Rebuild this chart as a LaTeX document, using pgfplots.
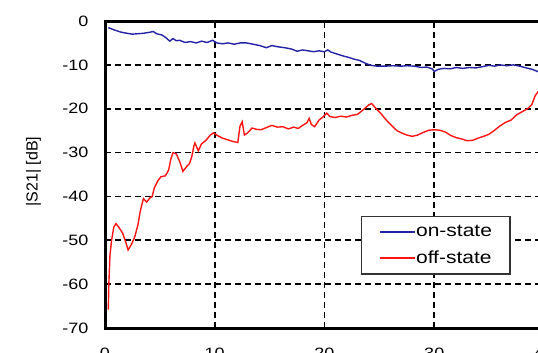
\documentclass[border=0pt]{standalone}
\usepackage{fontspec}
\setmainfont{Liberation Sans}
\newfontfamily\tickfont[FakeStretch=1.2]{Liberation Sans}
\newfontfamily\legfont[FakeStretch=1.2]{Liberation Sans}
\usepackage{pgfplots}
\pgfplotsset{compat=1.18}
\definecolor{onblue}{RGB}{35,35,165}
\definecolor{offred}{RGB}{255,20,20}
\begin{document}
\begin{tikzpicture}
\begin{axis}[
 scale only axis, width=439bp, height=307bp,
 at={(105bp,-328bp)}, anchor=south west,
 xmin=0, xmax=40, ymin=-70, ymax=0,
 xtick={0,10,20,30,40}, ytick={-70,-60,-50,-40,-30,-20,-10,0},
 grid=major,
 major grid style={black, line width=1.6bp, dash pattern=on 6bp off 4bp},
 axis line style={black, line width=3bp},
 tick style={black, line width=1.3bp}, major tick length=5bp, tick align=inside,
 /pgf/number format/assume math mode=true,
 tick label style={font=\tickfont\fontsize{15bp}{17bp}\selectfont},
 yticklabel style={xshift=-13bp},
 xticklabel style={yshift=-17bp},
 ylabel={|S21| [dB]},
 every axis y label/.style={at={(axis description cs:-0.163,0.51)}, rotate=90, anchor=center, font=\fontsize{16bp}{18bp}\selectfont},
 legend style={at={(axis description cs:0.583,0.365)}, anchor=north west,
   draw=black!80, line width=1.1bp, font=\legfont\fontsize{17.5bp}{20bp}\selectfont,
   inner xsep=18bp, inner ysep=9bp, row sep=12.5bp,
   nodes={inner sep=0bp}},
 legend image code/.code={\draw[line width=1.6bp,#1] (0bp,0bp) -- (35bp,0bp);},
 legend cell align=left,
]
\addplot[onblue, line width=1.4bp] coordinates {
(0.3,-1.5) (0.8,-2.0) (1.4,-2.5) (2.0,-2.8) (2.5,-3.0) (3.0,-2.9) (3.5,-2.8)
(4.0,-2.6) (4.4,-2.4) (4.7,-2.9) (5.2,-3.2) (5.6,-3.9) (5.9,-4.6) (6.2,-4.0)
(6.5,-4.5) (6.8,-4.4) (7.3,-4.9) (7.8,-4.7) (8.3,-5.0) (8.8,-4.6) (9.3,-4.9)
(9.8,-4.4) (10.2,-5.0) (10.7,-5.2) (11.2,-5.0) (11.8,-5.3) (12.3,-5.0) (12.9,-5.0)
(13.5,-5.3) (14.1,-5.6) (14.7,-6.1) (15.2,-5.6) (15.8,-5.9) (16.4,-6.1) (17.0,-6.4)
(17.5,-6.9) (18.0,-6.6) (18.5,-6.8) (19.0,-7.0) (19.5,-6.8) (20.0,-7.0) (20.3,-6.6)
(20.6,-7.1) (21.1,-7.5) (21.6,-7.9) (22.2,-8.3) (22.7,-8.7) (23.2,-9.0) (23.7,-9.6)
(24.2,-10.1) (24.8,-10.3) (25.5,-10.3) (26.2,-10.2) (27.0,-10.3) (27.5,-10.2)
(28.2,-10.3) (28.8,-10.6) (29.3,-10.5) (29.8,-10.9) (30.0,-11.5) (30.4,-11.0)
(30.9,-10.8) (31.5,-10.9) (32.0,-10.6) (32.6,-10.8) (33.2,-10.6) (33.8,-10.7)
(34.4,-10.4) (35.0,-10.1) (35.5,-10.3) (36.0,-10.0) (36.6,-10.2) (37.2,-10.0)
(37.8,-10.3) (38.4,-10.7) (38.9,-11.0) (39.5,-11.6) (40.0,-11.8)
};
\addlegendentry{on-state}
\addplot[offred, line width=1.4bp] coordinates {
(0.3,-65.8) (0.35,-60) (0.45,-53.5) (0.6,-50) (0.8,-47) (1.0,-46.2) (1.3,-47.2)
(1.6,-48.3) (1.9,-50.5) (2.1,-52.2) (2.4,-51.0) (2.7,-49.3) (3.0,-46.5) (3.2,-43.5)
(3.5,-40.5) (3.8,-41.3) (4.1,-40.3) (4.3,-40.0) (4.5,-38.0) (4.8,-36.5) (5.1,-35.5)
(5.5,-35.3) (5.8,-34.0) (6.0,-31.5) (6.2,-30.0) (6.5,-30.3) (6.8,-32.0) (7.1,-34.3)
(7.4,-33.3) (7.7,-32.5) (7.9,-31.0) (8.1,-28.5) (8.2,-27.8) (8.5,-29.6) (8.8,-28.0)
(9.2,-27.2) (9.6,-26.0) (9.9,-25.5) (10.3,-26.2) (10.7,-26.7) (11.2,-27.1) (11.7,-27.5)
(12.1,-27.7) (12.3,-24.0) (12.5,-23.0) (12.7,-26.0) (13.0,-25.5) (13.4,-24.4)
(13.8,-24.7) (14.2,-24.8) (14.7,-24.3) (15.2,-23.8) (15.7,-24.2) (16.2,-24.1)
(16.7,-24.6) (17.2,-24.2) (17.6,-24.5) (18.0,-23.8) (18.4,-23.2) (18.6,-22.2)
(18.8,-23.6) (19.1,-24.1) (19.5,-22.6) (19.9,-21.8) (20.2,-21.0) (20.5,-21.8)
(21.0,-22.0) (21.5,-21.7) (22.0,-21.9) (22.5,-21.5) (23.0,-21.3) (23.5,-20.3)
(24.0,-19.2) (24.3,-18.8) (24.7,-20.0) (25.1,-21.0) (25.6,-22.5) (26.1,-23.8)
(26.6,-25.0) (27.0,-25.5) (27.5,-26.0) (28.0,-26.3) (28.5,-26.0) (29.0,-25.4)
(29.5,-24.9) (30.0,-24.8) (30.5,-24.9) (31.0,-25.3) (31.5,-26.1) (32.0,-26.6)
(32.5,-26.9) (33.0,-27.3) (33.5,-27.2) (34.0,-26.7) (34.5,-26.3) (35.0,-25.8)
(35.5,-24.9) (36.0,-23.9) (36.5,-23.1) (37.0,-22.6) (37.5,-21.4) (38.0,-20.7)
(38.5,-20.0) (38.9,-19.0) (39.2,-17.0) (39.5,-16.0) (40.0,-15.5)
};
\addlegendentry{off-state}
\end{axis}
\pgfresetboundingbox
\useasboundingbox (0bp,0bp) rectangle (538bp,-353bp);
\end{tikzpicture}
\end{document}
